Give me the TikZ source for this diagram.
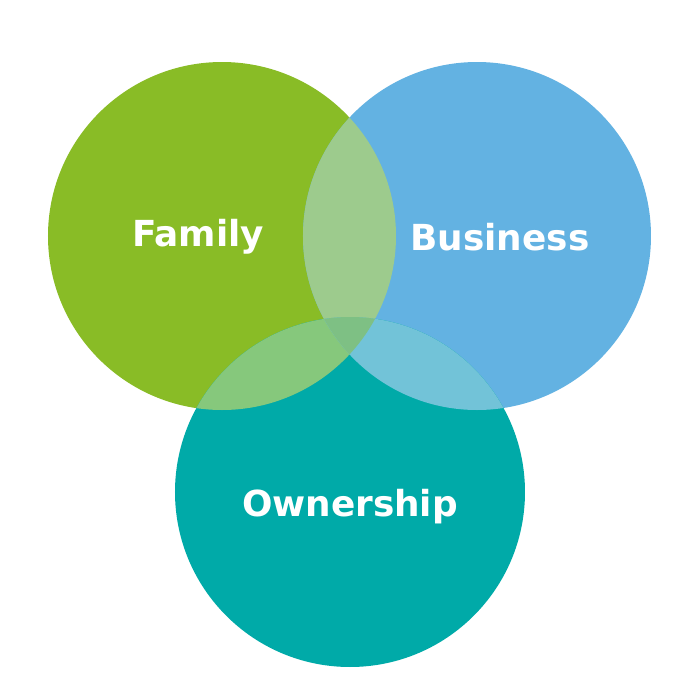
\documentclass[tikz,border=0pt]{standalone}
\usepackage{fontspec}
\setmainfont{DejaVu Sans}
\definecolor{famgreen}{HTML}{89BC26}
\definecolor{busblue}{HTML}{63B2E2}
\definecolor{owncyan}{HTML}{00AAA8}
\definecolor{fblens}{HTML}{9DCB8D}
\definecolor{folens}{HTML}{86C87C}
\definecolor{bolens}{HTML}{72C3D8}
\definecolor{midlens}{HTML}{7EC084}
\begin{document}
\begin{tikzpicture}[label/.style={text=white,font=\bfseries\fontsize{10.2}{12}\selectfont}]
    \useasboundingbox[fill=white](0,0)rectangle(7,7);

    \fill[famgreen](2.22,4.64)circle(1.74);
    \fill[busblue](4.77,4.64)circle(1.74);
    \fill[owncyan](3.50,2.08)circle(1.75);

    \begin{scope}
        \clip(2.22,4.64)circle(1.74);
        \fill[fblens](4.77,4.64)circle(1.74);
        \fill[folens](3.50,2.08)circle(1.75);
    \end{scope}
    \begin{scope}
        \clip(4.77,4.64)circle(1.74);
        \fill[bolens](3.50,2.08)circle(1.75);
        \clip(2.22,4.64)circle(1.74);
        \fill[midlens](3.50,2.08)circle(1.75);
    \end{scope}

    \node[label](family)at(1.98,4.63){Family};
    \node[label](business)at(5.00,4.63){Business};
    \node[label](ownership)at(3.50,1.93){Ownership};
\end{tikzpicture}
\end{document}
